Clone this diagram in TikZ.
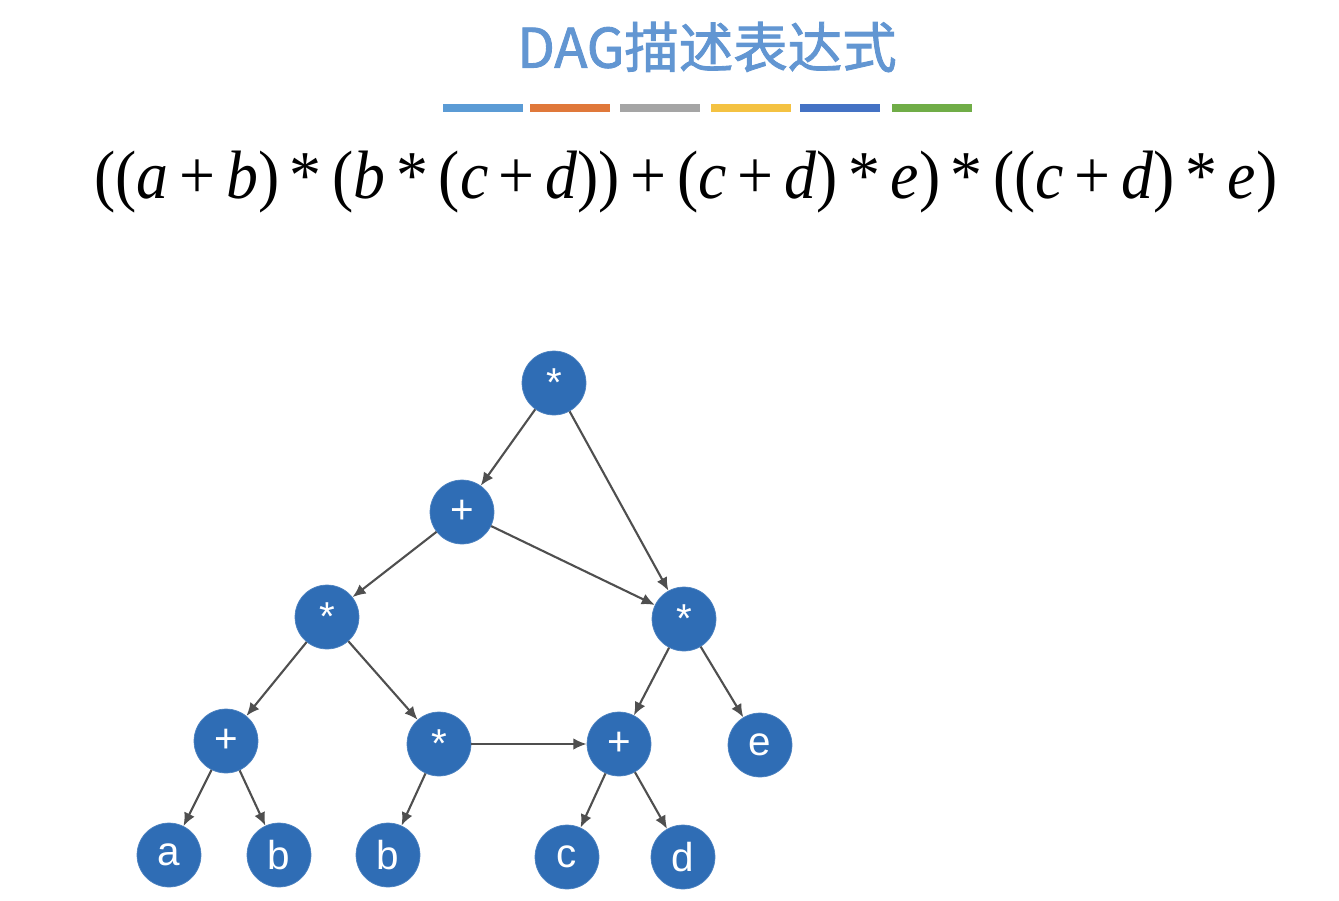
\documentclass[tikz,border=0pt]{standalone}
\usepackage{fontspec}
\setmainfont{Liberation Sans}
\newfontfamily\cjk{Noto Sans CJK SC}[BoldFont={Noto Sans CJK SC}, BoldFeatures={FakeBold=1.6}]
\newfontfamily\tnr{Liberation Serif}
\usepackage{graphicx}
\usepackage{xcolor}
\usetikzlibrary{arrows.meta}

\definecolor{nodeblue}{HTML}{2F6DB5}
\definecolor{edgegray}{HTML}{4F4F4F}
\definecolor{titleblue}{HTML}{6296D2}
\definecolor{barA}{HTML}{5B9BD5}
\definecolor{barB}{HTML}{E0783A}
\definecolor{barC}{HTML}{A5A5A5}
\definecolor{barD}{HTML}{F4C242}
\definecolor{barE}{HTML}{4472C4}
\definecolor{barF}{HTML}{70AD47}

\begin{document}
\begin{tikzpicture}[
    x=0.02cm, y=-0.02cm,
    >={Latex[length=7.5pt, width=6.5pt]},
    vtx/.style={circle, fill=nodeblue, draw=nodeblue!85!white, thin, minimum size=1.28cm, inner sep=0pt, text=white, font=\fontsize{23}{26}\selectfont},
    arr/.style={->, draw=edgegray, line width=1.2pt},
    title/.style={text=titleblue, font=\cjk\bfseries\fontsize{31}{35}\selectfont},
    formula/.style={inner sep=0pt, text=black}
]
\useasboundingbox (0,0) rectangle (1339,900);

\node[title] (ttl) at (707,47) {DAG描述表达式};
\foreach \xs/\col in {443/barA, 530/barB, 620/barC, 711/barD, 800/barE, 892/barF}
    \fill[\col] (\xs,104) rectangle ++(80,8);
\node[formula] (expr) at (686,182) {\resizebox{23.66cm}{0.95cm}{\tnr ((\textit{a}\,+\,\textit{b})\,*\,(\textit{b}\,*\,(\textit{c}\,+\,\textit{d}))\,+\,(\textit{c}\,+\,\textit{d})\,*\,\textit{e})\,*\,((\textit{c}\,+\,\textit{d})\,*\,\textit{e})}};

\node[vtx] (mroot) at (554,383) {*};
\node[vtx] (add1) at (462,512) {+};
\node[vtx] (mulL) at (327,617) {*};
\node[vtx] (mulR) at (684,619) {*};
\node[vtx] (addL) at (226,741) {+};
\node[vtx] (mulM) at (439,744) {*};
\node[vtx] (addR) at (619,744) {+};
\node[vtx] (ve) at (760,745) {e};
\node[vtx] (va) at (169,855) {a};
\node[vtx] (vb) at (279,855) {b};
\node[vtx] (vb2) at (388,855) {b};
\node[vtx] (vc) at (567,857) {c};
\node[vtx] (vd) at (683,857) {d};

\draw[arr] (mroot) -- (add1);
\draw[arr] (mroot) -- (mulR);
\draw[arr] (add1) -- (mulL);
\draw[arr] (add1) -- (mulR);
\draw[arr] (mulL) -- (addL);
\draw[arr] (mulL) -- (mulM);
\draw[arr] (mulR) -- (addR);
\draw[arr] (mulR) -- (ve);
\draw[arr] (addL) -- (va);
\draw[arr] (addL) -- (vb);
\draw[arr] (mulM) -- (vb2);
\draw[arr] (mulM) -- (addR);
\draw[arr] (addR) -- (vc);
\draw[arr] (addR) -- (vd);

\end{tikzpicture}
\end{document}
